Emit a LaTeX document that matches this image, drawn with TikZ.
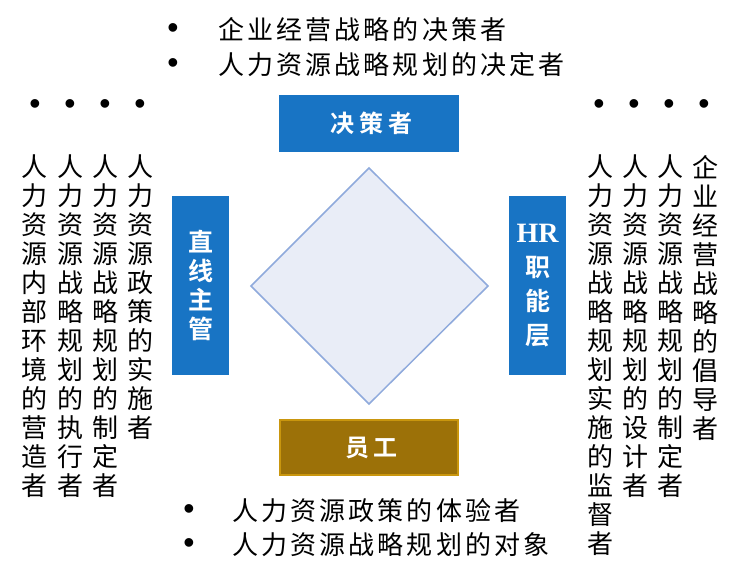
\documentclass[tikz,border=0pt]{standalone}
\usepackage{fontspec}
\newfontfamily\cjk[LetterSpace=12]{Noto Sans CJK SC}
\newfontfamily\cjkv{Noto Sans CJK SC}
\newfontfamily\cjkb[LetterSpace=20]{Noto Sans CJK SC Bold}
\newfontfamily\cjkbv{Noto Sans CJK SC Bold}
\newfontfamily\hrfont{Liberation Serif}
\newfontfamily\bulfont{Liberation Sans}
\definecolor{boxblue}{RGB}{24,116,196}
\definecolor{diafill}{RGB}{233,237,247}
\definecolor{diadraw}{RGB}{143,170,220}
\definecolor{brownfill}{RGB}{156,113,8}
\definecolor{browndraw}{RGB}{201,150,14}
\begin{document}
\begin{tikzpicture}[x=1pt,y=-1pt,
  hbox/.style={fill=boxblue,draw=none,inner sep=0pt,minimum width=180pt,minimum height=57pt},
  hlabel/.style={inner sep=0pt,text=white,font=\cjkb\fontsize{24}{29}\selectfont},
  vbox/.style={fill=boxblue,draw=none,inner sep=0pt,minimum width=57pt,minimum height=179pt},
  vlabel/.style={inner sep=0pt,text=white,align=center,font=\cjkbv\fontsize{25}{29}\selectfont},
  ebox/.style={fill=brownfill,draw=browndraw,line width=2pt,inner sep=0pt,minimum width=178pt,minimum height=55pt},
  line/.style={inner sep=0pt,anchor=west,font=\cjk\fontsize{26}{29}\selectfont},
  col/.style={inner sep=0pt,anchor=north,align=center,font=\cjkv\fontsize{26}{29}\selectfont},
  bul/.style={inner sep=0pt,font=\bulfont\fontsize{32}{32}\selectfont},
]
\useasboundingbox (0,0) rectangle (737,579);

% top box
\node[hbox] (dec) at (369,123.5) {};
\node[hlabel] (declab) at ([xshift=2.4pt]dec.center) {决策者};
% left / right boxes
\node[vbox] (lbox) at (200.5,285.5) {};
\node[vlabel] (llab) at (lbox.center) {直\\线\\主\\管};
\node[vbox] (rbox) at (537.5,285.5) {};
\node[vlabel,font=\cjkbv\fontsize{25}{34}\selectfont] (rlab) at (rbox.center) {{\hrfont\bfseries\fontsize{28}{34}\selectfont HR}\\职\\能\\层};
% bottom box
\node[ebox] (emp) at (369,447.5) {};
\node[hlabel] (emplab) at ([xshift=2.4pt]emp.center) {员工};

% diamond
\coordinate (dt) at (369,168);
\coordinate (dr) at (488,286);
\coordinate (db) at (369,404);
\coordinate (dl) at (251,286);
\draw[fill=diafill,draw=diadraw,line width=1.5pt,line join=miter] (dt) -- (dr) -- (db) -- (dl) -- cycle;

% top text
\node[bul] (tb1) at (173,31) {•};
\node[bul] (tb2) at (173,66) {•};
\node[line] (tt1) at (218,30) {企业经营战略的决策者};
\node[line] (tt2) at (218,65) {人力资源战略规划的决定者};

% bottom text
\node[bul] (bb1) at (189,512) {•};
\node[bul] (bb2) at (189,546) {•};
\node[line] (bt1) at (232,511) {人力资源政策的体验者};
\node[line] (bt2) at (232,545) {人力资源战略规划的对象};

% left bullets and columns
\node[bul] (lb1) at (35,107) {•};
\node[bul] (lb2) at (70,107) {•};
\node[bul] (lb3) at (105,107) {•};
\node[bul] (lb4) at (140,107) {•};
\node[col] (lc1) at (34,155) {人\\力\\资\\源\\内\\部\\环\\境\\的\\营\\造\\者};
\node[col] (lc2) at (70,155) {人\\力\\资\\源\\战\\略\\规\\划\\的\\执\\行\\者};
\node[col] (lc3) at (105,155) {人\\力\\资\\源\\战\\略\\规\\划\\的\\制\\定\\者};
\node[col] (lc4) at (140,155) {人\\力\\资\\源\\政\\策\\的\\实\\施\\者};

% right bullets and columns
\node[bul] (rb1) at (599,107) {•};
\node[bul] (rb2) at (634,107) {•};
\node[bul] (rb3) at (669,107) {•};
\node[bul] (rb4) at (704,107) {•};
\node[col] (rc1) at (600,155) {人\\力\\资\\源\\战\\略\\规\\划\\实\\施\\的\\监\\督\\者};
\node[col] (rc2) at (635,155) {人\\力\\资\\源\\战\\略\\规\\划\\的\\设\\计\\者};
\node[col] (rc3) at (670,155) {人\\力\\资\\源\\战\\略\\规\\划\\的\\制\\定\\者};
\node[col] (rc4) at (705,155) {企\\业\\经\\营\\战\\略\\的\\倡\\导\\者};
\end{tikzpicture}
\end{document}
